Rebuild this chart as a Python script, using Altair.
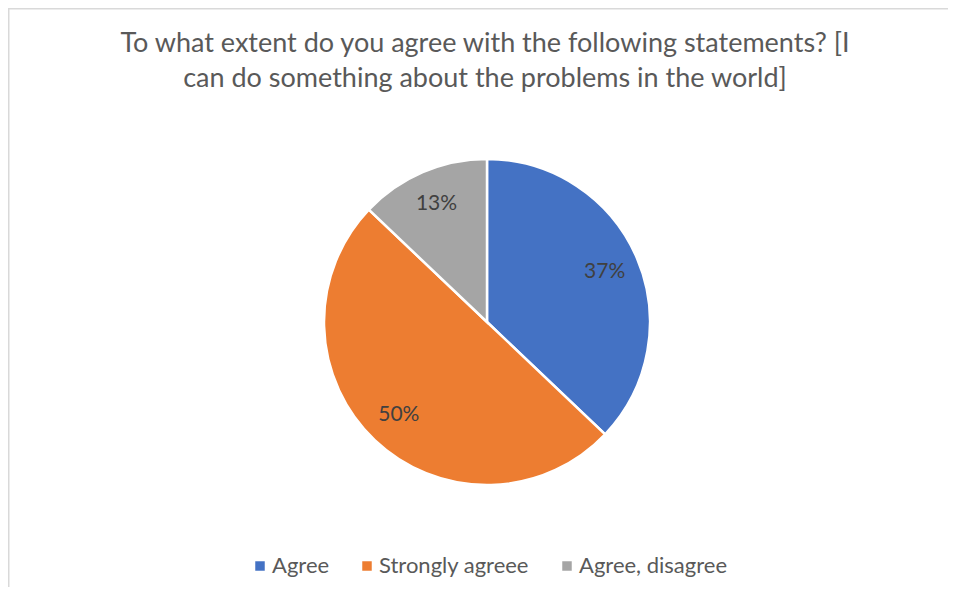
import altair as alt
import pandas as pd

categories = ["Agree", "Strongly agreee", "Agree, disagree"]
counts = [23, 31, 8]
labels = ["37%", "50%", "13%"]
colors = ["#4472C4", "#ED7D31", "#A5A5A5"]
title_lines = ["To what extent do you agree with the following statements? [I",
               "can do something about the problems in the world]"]

df = pd.DataFrame({"category": categories, "count": counts, "label": labels,
                   "order": [0, 1, 2]})

FONT = "Lato"
CX, CY, R = 479, 314, 163
W, H = 940, 579

base = alt.Chart(df).encode(
    theta=alt.Theta("count:Q", stack=True),
    order=alt.Order("order:Q"),
)

pie = base.mark_arc(outerRadius=R, stroke="white", strokeWidth=2.5).encode(
    x=alt.value(CX), y=alt.value(CY),
    color=alt.Color("category:N",
                    scale=alt.Scale(domain=categories, range=colors),
                    sort=categories,
                    legend=alt.Legend(title=None, orient="none", direction="horizontal",
                                      legendX=241, legendY=547,
                                      symbolType="square", symbolSize=90,
                                      symbolStrokeWidth=0,
                                      labelFont=FONT, labelFontSize=22,
                                      labelColor="#595959", labelOffset=1,
                                      columnPadding=26)),
)

text = base.mark_text(radius=128, font=FONT, fontSize=21, color="#404040").encode(
    x=alt.value(CX), y=alt.value(CY),
    text="label:N",
)

title = alt.Chart(pd.DataFrame({"t": [0]})).mark_text(
    font=FONT, fontSize=27, color="#595959", lineHeight=35,
    align="center", baseline="alphabetic",
).encode(x=alt.value(477), y=alt.value(44), text=alt.value(title_lines))

frame_top = alt.Chart(pd.DataFrame({"t": [0]})).mark_rule(
    color="#D9D9D9", strokeWidth=1.5
).encode(x=alt.value(0), x2=alt.value(W), y=alt.value(0.75))

frame_left = alt.Chart(pd.DataFrame({"t": [0]})).mark_rule(
    color="#D9D9D9", strokeWidth=1.5
).encode(x=alt.value(0.75), y=alt.value(0), y2=alt.value(H))

chart = alt.layer(frame_top, frame_left, pie, text, title).properties(
    width=W, height=H, padding=0,
    autosize=alt.AutoSizeParams(type="none"),
).configure_view(stroke="transparent", strokeWidth=0)

chart.save("out.html", embed_options={"renderer": "svg", "actions": False})
